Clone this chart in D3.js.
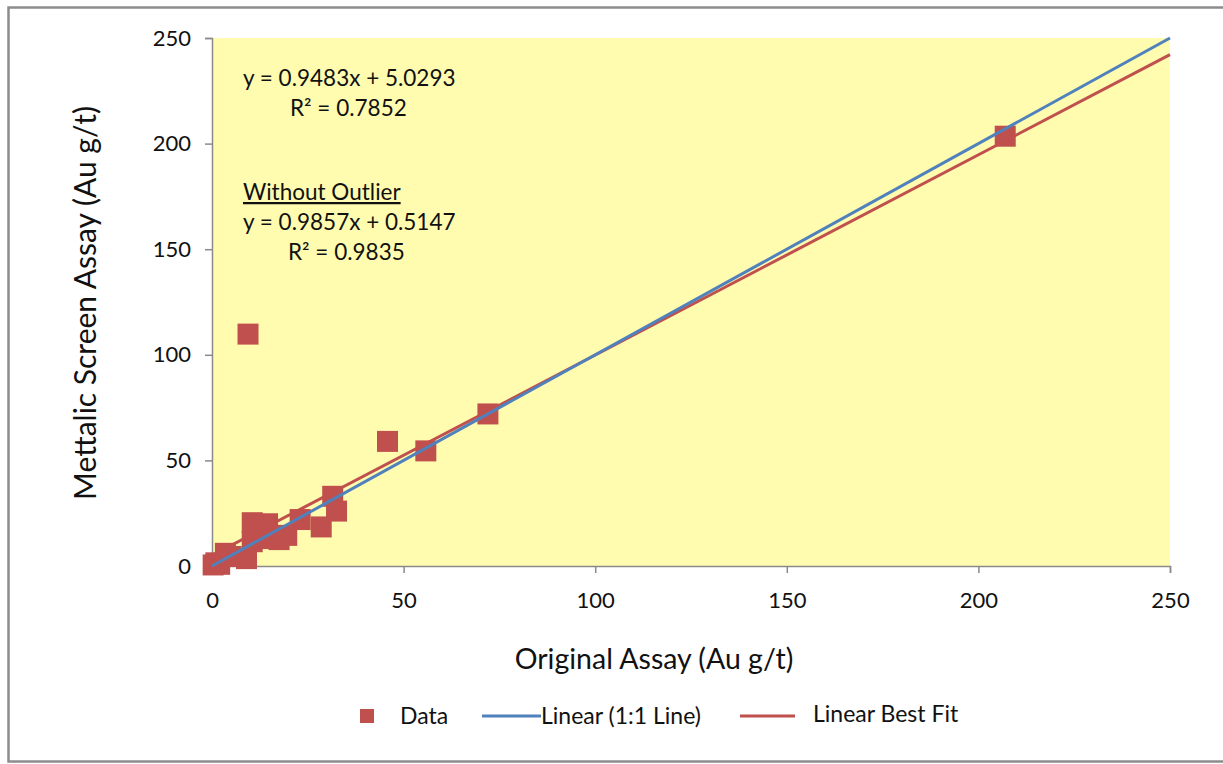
<!DOCTYPE html>
<html>
<head>
<meta charset="utf-8">
<script src="https://cdn.jsdelivr.net/npm/d3@7"></script>
<style>
  body { margin: 0; background: #fff; }
  text { font-family: Lato, "Open Sans", sans-serif; fill: #111; }
</style>
</head>
<body>
<div id="chart"></div>
<script>
// data
const originalAssay = [0.3, 1.0, 2.0, 3.5, 5.0, 9.0, 10.5, 10.5, 14.5, 13.5, 17.5, 19.5, 23.0, 28.5, 31.5, 32.5, 45.8, 55.8, 72.0, 9.4, 207.0];
const screenAssay = [0.5, 1.5, 0.8, 6.0, 4.5, 3.5, 20.5, 11.5, 20.0, 13.0, 12.5, 14.5, 22.0, 18.5, 33.0, 26.0, 59.0, 54.5, 72.0, 109.8, 203.5];
const xTicks = [0, 50, 100, 150, 200, 250];
const yTicks = [0, 50, 100, 150, 200, 250];
const oneToOne = [0, 250];
const bestFit = { slope: 0.9483, intercept: 5.0293 };
const equationLines = ["y = 0.9483x + 5.0293", "R\u00B2 = 0.7852"];
const outlierLines = ["Without Outlier", "y = 0.9857x + 0.5147", "R\u00B2 = 0.9835"];
const legendLabels = ["Data", "Linear (1:1 Line)", "Linear Best Fit"];

const width = 1223, height = 764;
const margin = { top: 38, right: 53, bottom: 198, left: 212 };
const w = width - margin.left - margin.right;
const h = height - margin.top - margin.bottom;

const red = "#c0504d", blue = "#4f81bd", axisColor = "#8a8a8a";

const svg = d3.select("#chart").append("svg")
  .attr("width", width).attr("height", height);

// outer chart frame
svg.append("rect")
  .attr("x", 8.5).attr("y", 7.5)
  .attr("width", 1300).attr("height", 754)
  .attr("fill", "none").attr("stroke", "#8c8c8c").attr("stroke-width", 2.5);

const g = svg.append("g")
  .attr("transform", "translate(" + margin.left + "," + margin.top + ")");

let x = d3.scaleLinear().domain([0, 250]).range([0, w]);
let y = d3.scaleLinear().domain([0, 250]).range([h, 0]);

// plot area
g.append("rect")
  .attr("width", w).attr("height", h)
  .attr("fill", "#fffcb0");

// axes
const xAxis = d3.axisBottom(x).tickValues(xTicks).tickSize(7).tickPadding(19);
const yAxis = d3.axisLeft(y).tickValues(yTicks).tickSize(7).tickPadding(14);

const gx = g.append("g").attr("transform", "translate(0," + h + ")").call(xAxis);
const gy = g.append("g").call(yAxis);
[gx, gy].forEach((ax) => {
  ax.select(".domain").attr("stroke", axisColor).attr("stroke-width", 1.5);
  ax.selectAll(".tick line").attr("stroke", axisColor).attr("stroke-width", 1.5);
  ax.selectAll("text").style("font-size", "22px").attr("fill", "#111")
    .style("font-family", "Lato, 'Open Sans', sans-serif");
});

// data points
const pts = originalAssay.map((d, i) => [d, screenAssay[i]]);
const sq = 21;
g.selectAll(".pt")
  .data(pts)
  .enter()
  .append("rect")
  .attr("class", "pt")
  .attr("x", (d) => x(d[0]) - sq / 2)
  .attr("y", (d) => y(d[1]) - sq / 2)
  .attr("width", sq).attr("height", sq)
  .attr("fill", red);

// trend lines
const line = d3.line().x((d) => x(d[0])).y((d) => y(d[1]));
g.append("path")
  .datum(oneToOne.map((v) => [v, bestFit.slope * v + bestFit.intercept]))
  .attr("d", line)
  .attr("fill", "none").attr("stroke", red).attr("stroke-width", 3);
g.append("path")
  .datum(oneToOne.map((v) => [v, v]))
  .attr("d", line)
  .attr("fill", "none").attr("stroke", blue).attr("stroke-width", 3);

// equation labels
const eq = svg.append("g").style("font-size", "22.5px");
eq.append("text").attr("x", 243).attr("y", 86).text(equationLines[0]);
eq.append("text").attr("x", 290).attr("y", 116).text(equationLines[1]);
eq.append("text").attr("x", 243).attr("y", 200)
  .style("text-decoration", "underline").text(outlierLines[0]);
eq.append("text").attr("x", 243).attr("y", 230).text(outlierLines[1]);
eq.append("text").attr("x", 288).attr("y", 260).text(outlierLines[2]);

// axis titles
svg.append("text")
  .attr("x", 654).attr("y", 669)
  .attr("text-anchor", "middle")
  .style("font-size", "28.5px")
  .text("Original Assay (Au g/t)");
svg.append("text")
  .attr("transform", "translate(96,303) rotate(-90)")
  .attr("text-anchor", "middle")
  .style("font-size", "30px")
  .text("Mettalic Screen Assay (Au g/t)");

// legend
const lg = svg.append("g").style("font-size", "23px");
lg.append("rect").attr("x", 360).attr("y", 709).attr("width", 14).attr("height", 14).attr("fill", red);
lg.append("text").attr("x", 400).attr("y", 724).text(legendLabels[0]);
lg.append("line").attr("x1", 482).attr("x2", 541).attr("y1", 716).attr("y2", 716)
  .attr("stroke", blue).attr("stroke-width", 3);
lg.append("text").attr("x", 541).attr("y", 724).text(legendLabels[1]);
lg.append("line").attr("x1", 740).attr("x2", 795).attr("y1", 716).attr("y2", 716)
  .attr("stroke", red).attr("stroke-width", 3);
lg.append("text").attr("x", 813).attr("y", 722).text(legendLabels[2]);
</script>
</body>
</html>
